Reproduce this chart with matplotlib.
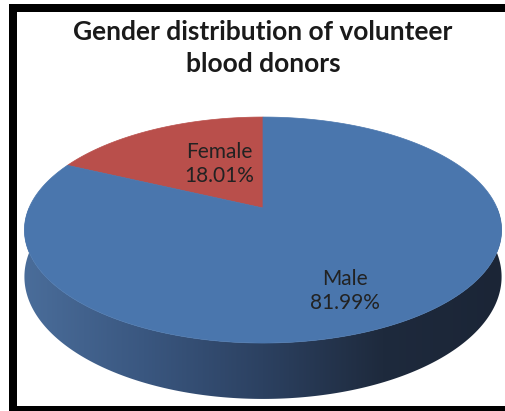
import numpy as np
import matplotlib.pyplot as plt
from matplotlib.patches import Polygon, Rectangle
from matplotlib.colors import LinearSegmentedColormap

# Data
labels = ["Female", "Male"]
shares = [18.01, 81.99]
colors = ["#b94f4b", "#4a76ad"]

title = "Gender distribution of volunteer\nblood donors"

plt.rcParams['font.family'] = ['Lato', 'DejaVu Sans']

# Pie geometry in pixel space (y down), simple perspective
xc, yc = 263, 208      # apex of the pie
rx, ry = 234, 108.7    # radii
persp = -0.195         # perspective factor
depth = 45             # side thickness


def project(theta, r=1.0, dz=0.0):
    u = r * np.cos(theta)
    v = -r * np.sin(theta)
    s = 1.0 / (1.0 + persp * v)
    return xc + rx * u * s, yc + ry * v * s + dz * s


fig = plt.figure(figsize=(5.06, 4.11), dpi=100)
ax = fig.add_axes([0, 0, 1, 1])
ax.set_xlim(0, 506)
ax.set_ylim(411, 0)
ax.axis('off')

# side of the pie (front half) with a left-to-right shade
th = np.linspace(np.pi, 2 * np.pi, 400)
tx, ty = project(th)
bx, by = project(th, dz=depth)
side_pts = list(zip(tx, ty)) + list(zip(bx[::-1], by[::-1]))
side = Polygon(side_pts, closed=True, facecolor='none', edgecolor='none')
ax.add_patch(side)
shade = LinearSegmentedColormap.from_list(
    "side", ["#4a6d9a", "#3a5780", "#2c4161", "#1e2a3d", "#1b2536"])
grad = np.linspace(0, 1, 256).reshape(1, -1)
im = ax.imshow(grad, cmap=shade, aspect='auto',
               extent=(tx.min(), tx.max(), by.max() + 2, ty.min()),
               interpolation='bilinear', zorder=1)
im.set_clip_path(side)

# top faces
start = np.pi / 2
total = sum(shares)
for lab, val, col in zip(labels, shares, colors):
    span = 2 * np.pi * val / total
    t = np.linspace(start, start + span, 300)
    xs, ys = project(t)
    pts = [(xc, yc)] + list(zip(xs, ys))
    ax.add_patch(Polygon(pts, closed=True, facecolor=col, edgecolor=col,
                         lw=0.5, zorder=2))
    mid = start + span / 2
    r = 0.35 if val < 50 else 0.655
    lx = xc + rx * r * np.cos(mid)
    ly = yc - 150 * r * np.sin(mid)
    ax.text(lx, ly, f"{lab}\n{val:.2f}%", ha='center', va='center',
            fontsize=15, color='#222222', linespacing=1.25, zorder=3)
    start += span

# title
ax.text(263, 48, title, ha='center', va='center', fontsize=19,
        fontweight='bold', color='#1a1a1a', linespacing=1.4)

# black frame (left, top, bottom)
ax.add_patch(Rectangle((9, 4), 8, 407, facecolor='black', edgecolor='none', zorder=5))
ax.add_patch(Rectangle((9, 4), 497, 8, facecolor='black', edgecolor='none', zorder=5))
ax.add_patch(Rectangle((9, 406), 497, 5, facecolor='black', edgecolor='none', zorder=5))

fig.savefig("out.png", dpi=100, facecolor='white')
